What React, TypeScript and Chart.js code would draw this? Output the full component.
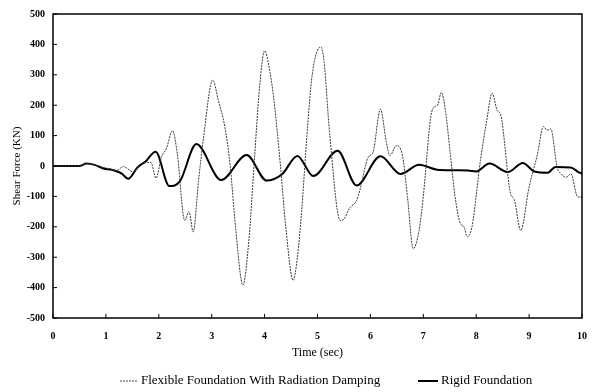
import React, { useEffect, useRef } from "react";
import { Chart, registerables } from "chart.js";

Chart.register(...registerables);

// Flexible Foundation With Radiation Damping (thin dotted)
const flexTime = [
  0, 0.5, 0.63, 0.8, 0.95, 1.1, 1.2, 1.33, 1.52, 1.65, 1.85, 1.95, 2.05, 2.14, 2.26, 2.35,
  2.49, 2.57, 2.65, 2.75, 2.85, 3.02, 3.12, 3.25, 3.35, 3.45, 3.59, 3.7, 3.8, 3.9, 4.0,
  4.08, 4.17, 4.3, 4.4, 4.54, 4.62, 4.7, 4.8, 4.9, 5.06, 5.12, 5.23, 5.43, 5.5, 5.6, 5.74,
  5.8, 5.96, 6.05, 6.19, 6.3, 6.37, 6.49, 6.6, 6.7, 6.81, 6.92, 7.0, 7.14, 7.21, 7.27,
  7.34, 7.42, 7.51, 7.6, 7.7, 7.77, 7.83, 7.92, 8.08, 8.2, 8.3, 8.4, 8.46, 8.65, 8.72,
  8.84, 9.0, 9.16, 9.27, 9.34, 9.41, 9.53, 9.6, 9.7, 9.79, 9.92, 10,
];
const flexForce = [
  0, 0, 8, 3, -5, -10, -15, -2, -20, 5, 12, -40, 30, 56, 116, 40,
  -179, -150, -217, -50, 100, 283, 220, 127, 0, -200, -392, -250, 0, 250, 379,
  330, 226, 0, -200, -376, -300, -150, 100, 300, 392, 350, 106, -179, -175, -140, -113,
  -80, 29, 45, 187, 80, 34, 67, 40, -100, -272, -212, -100, 160, 195, 200,
  242, 180, 40, -100, -189, -200, -233, -200, 18, 150, 240, 182, 170, -91, -110,
  -212, -69, 40, 130, 118, 122, -4, -25, -37, -26, -102, -102,
];

// Rigid Foundation (thick solid)
const rigidTime = [
  0, 0.5, 0.63, 0.8, 0.95, 1.1, 1.16, 1.3, 1.42, 1.6, 1.75, 1.94, 2.2, 2.4, 2.71, 3.18,
  3.66, 4.04, 4.33, 4.62, 4.92, 5.38, 5.74, 6.19, 6.57, 6.92, 7.26, 7.6, 7.85, 8.0,
  8.25, 8.6, 8.88, 9.1, 9.35, 9.5, 9.79, 9.95, 10,
];
const rigidForce = [
  0, 0, 8, 3, -8, -12, -15, -25, -42, -4, 15, 47, -66, -50, 72, -46,
  36, -48, -27, 33, -33, 50, -64, 32, -26, 4, -12, -14, -15, -18,
  8, -20, 10, -18, -22, -3, -5, -22, -25,
];

const xTicks = [0, 1, 2, 3, 4, 5, 6, 7, 8, 9, 10];
const yTicks = [-500, -400, -300, -200, -100, 0, 100, 200, 300, 400, 500];

const seriesNames = ["Flexible Foundation With Radiation Damping", "Rigid Foundation"];

const SERIF = "'Liberation Serif', 'Times New Roman', serif";

const framePlugin = {
  id: "frameAndTicks",
  afterDatasetsDraw(chart: any) {
    const { ctx, chartArea } = chart;
    const xs = chart.scales.x;
    const ys = chart.scales.y;
    ctx.save();
    ctx.strokeStyle = "#000";
    ctx.lineWidth = 1.5;
    ctx.strokeRect(chartArea.left, chartArea.top, chartArea.right - chartArea.left, chartArea.bottom - chartArea.top);
    ctx.lineWidth = 1;
    ctx.beginPath();
    xTicks.forEach((t) => {
      const px = xs.getPixelForValue(t);
      ctx.moveTo(px, chartArea.bottom);
      ctx.lineTo(px, chartArea.bottom - 4);
    });
    yTicks.forEach((v) => {
      const py = ys.getPixelForValue(v);
      ctx.moveTo(chartArea.left, py);
      ctx.lineTo(chartArea.left + 4, py);
    });
    ctx.stroke();
    ctx.restore();
  },
};

const legendPlugin = {
  id: "customLegend",
  afterDraw(chart: any) {
    const { ctx } = chart;
    const y = 381;
    ctx.save();
    ctx.font = `13px ${SERIF}`;
    ctx.textBaseline = "middle";
    ctx.fillStyle = "#000";
    // item 1
    ctx.strokeStyle = "#444";
    ctx.lineWidth = 1;
    ctx.setLineDash([2, 1]);
    ctx.beginPath();
    ctx.moveTo(120, y);
    ctx.lineTo(137, y);
    ctx.stroke();
    ctx.setLineDash([]);
    ctx.fillText(seriesNames[0], 141, y);
    // item 2
    ctx.strokeStyle = "#000";
    ctx.lineWidth = 2;
    ctx.beginPath();
    ctx.moveTo(418, y);
    ctx.lineTo(438, y);
    ctx.stroke();
    ctx.fillText(seriesNames[1], 441, y);
    ctx.restore();
  },
};

export default function App() {
  const ref = useRef<HTMLCanvasElement | null>(null);
  useEffect(() => {
    if (!ref.current) return;
    const chart = new Chart(ref.current, {
      type: "line",
      data: {
        datasets: [
          {
            label: seriesNames[0],
            data: flexTime.map((t, i) => ({ x: t, y: flexForce[i] })),
            borderColor: "#3a3a3a",
            borderWidth: 1,
            borderDash: [2, 1],
            pointRadius: 0,
            cubicInterpolationMode: "monotone",
            fill: false,
          },
          {
            label: seriesNames[1],
            data: rigidTime.map((t, i) => ({ x: t, y: rigidForce[i] })),
            borderColor: "#000",
            borderWidth: 2,
            pointRadius: 0,
            cubicInterpolationMode: "monotone",
            fill: false,
          },
        ],
      },
      options: {
        responsive: false,
        animation: false,
        layout: { padding: { left: 0, right: 16, top: 13, bottom: 0 } },
        plugins: {
          legend: { display: false },
          tooltip: { enabled: false },
        },
        scales: {
          x: {
            type: "linear",
            min: 0,
            max: 10,
            afterFit: (s: any) => {
              s.height = 74;
            },
            afterBuildTicks: (s: any) => {
              s.ticks = xTicks.map((v) => ({ value: v }));
            },
            grid: { display: false, drawTicks: false },
            border: { display: false },
            ticks: {
              color: "#000",
              padding: 12,
              maxRotation: 0,
              font: { family: SERIF, size: 10, weight: "bold" },
            },
            title: {
              display: true,
              text: "Time (sec)",
              color: "#000",
              font: { family: SERIF, size: 12 },
              padding: { top: 0, bottom: 32 },
            },
          },
          y: {
            type: "linear",
            min: -500,
            max: 500,
            afterFit: (s: any) => {
              s.width = 53;
            },
            afterBuildTicks: (s: any) => {
              s.ticks = yTicks.map((v) => ({ value: v }));
            },
            grid: { display: false, drawTicks: false },
            border: { display: false },
            ticks: {
              color: "#000",
              padding: 8,
              font: { family: SERIF, size: 10, weight: "bold" },
            },
            title: {
              display: true,
              text: "Shear Force (KN)",
              color: "#000",
              font: { family: SERIF, size: 11 },
              padding: { top: 11, bottom: 0 },
            },
          },
        },
      },
      plugins: [framePlugin, legendPlugin],
    });
    return () => chart.destroy();
  }, []);
  return (
    <div style={{ position: "absolute", left: 0, top: 0, width: 599, height: 392, background: "#fff" }}>
      <canvas ref={ref} width={599} height={392} style={{ display: "block" }} />
    </div>
  );
}
